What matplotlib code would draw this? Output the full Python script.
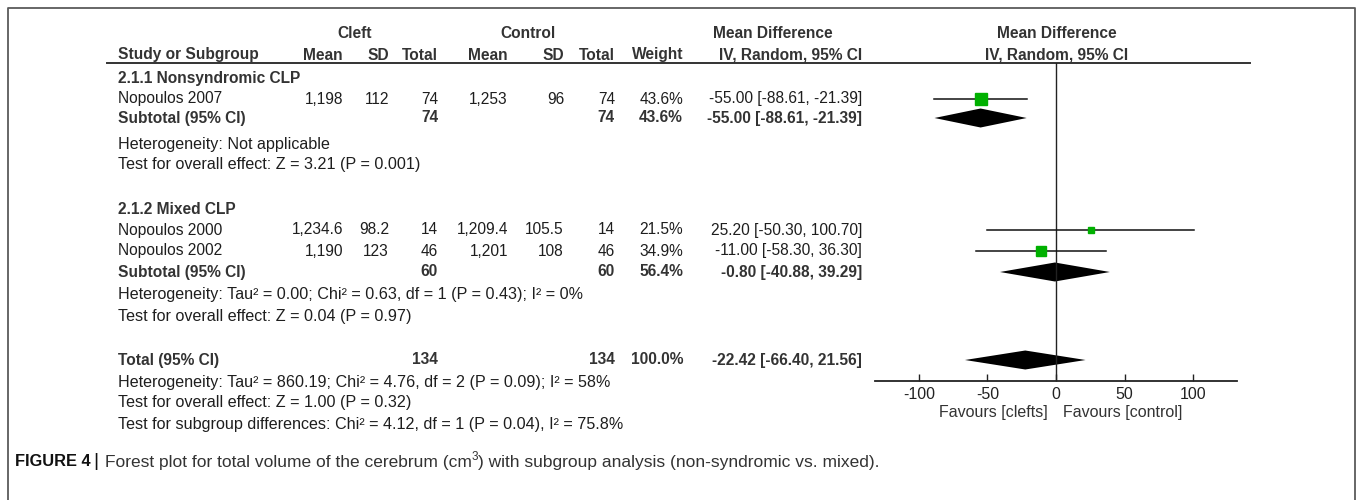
import matplotlib.pyplot as plt
from matplotlib.patches import Polygon

# individual studies
studies = ["Nopoulos 2007", "Nopoulos 2000", "Nopoulos 2002"]
cleft_mean = [1198, 1234.6, 1190]
cleft_sd = [112, 98.2, 123]
cleft_n = [74, 14, 46]
ctrl_mean = [1253, 1209.4, 1201]
ctrl_sd = [96, 105.5, 108]
ctrl_n = [74, 14, 46]
weight = [43.6, 21.5, 34.9]
md = [-55.00, 25.20, -11.00]
md_lo = [-88.61, -50.30, -58.30]
md_hi = [-21.39, 100.70, 36.30]

# subtotal / total rows
sum_names = ["Subtotal (95% CI)", "Subtotal (95% CI)", "Total (95% CI)"]
sum_cleft_n = [74, 60, 134]
sum_ctrl_n = [74, 60, 134]
sum_weight = [43.6, 56.4, 100.0]
sum_md = [-55.00, -0.80, -22.42]
sum_lo = [-88.61, -40.88, -66.40]
sum_hi = [-21.39, 39.29, 21.56]

groups = ["2.1.1 Nonsyndromic CLP", "2.1.2 Mixed CLP"]
notes = [
    ["Heterogeneity: Not applicable",
     "Test for overall effect: Z = 3.21 (P = 0.001)"],
    ["Heterogeneity: Tau² = 0.00; Chi² = 0.63, df = 1 (P = 0.43); I² = 0%",
     "Test for overall effect: Z = 0.04 (P = 0.97)"],
    ["Heterogeneity: Tau² = 860.19; Chi² = 4.76, df = 2 (P = 0.09); I² = 58%",
     "Test for overall effect: Z = 1.00 (P = 0.32)",
     "Test for subgroup differences: Chi² = 4.12, df = 1 (P = 0.04), I² = 75.8%"],
]
ticks = [-100, -50, 0, 50, 100]

# row layout (pixel rows from top)
study_y = [99, 230, 251]
group_y = [78, 210]
sum_y = [118, 272, 360]
note_y = [[145, 165], [295, 316], [382, 403, 425]]

plt.rcParams['font.family'] = ['Liberation Sans', 'DejaVu Sans']
FS = 11.2
FS_NOTE = 11.6
TXT = '#1e1e1e'
GREEN = '#00b000'

fig = plt.figure(figsize=(13.57, 5), dpi=100)
ax = fig.add_axes([0, 0, 1, 1])
ax.set_xlim(0, 1357)
ax.set_ylim(500, 0)
ax.axis('off')


def put(x, y, s, ha='left', bold=False, color=TXT, size=FS):
    return ax.text(x, y, s, ha=ha, va='center', fontsize=size,
                   fontweight='bold' if bold else 'normal', color=color)


# frame (open at the bottom)
ax.plot([8, 8, 1355, 1355], [500, 8, 8, 500], color='#5a5a5a', lw=1.3)

# column x positions (right edges)
X_NAME = 118
X_CM, X_CSD, X_CN = 343, 389, 438
X_KM, X_KSD, X_KN = 508, 564, 615
X_W, X_CI = 683, 862

HC = '#333333'
put(355, 33, "Cleft", 'center', True, HC)
put(528, 33, "Control", 'center', True, HC)
put(773, 33, "Mean Difference", 'center', True, HC)
put(1057, 33, "Mean Difference", 'center', True, HC)
put(X_NAME, 55, "Study or Subgroup", bold=True, color=HC)
for x, s in [(X_CM, "Mean"), (X_CSD, "SD"), (X_CN, "Total"),
             (X_KM, "Mean"), (X_KSD, "SD"), (X_KN, "Total"),
             (X_W, "Weight"), (X_CI, "IV, Random, 95% CI")]:
    put(x, 55, s, 'right', True, HC)
put(1057, 55, "IV, Random, 95% CI", 'center', True, HC)
ax.plot([107, 1250], [63, 63], color='#333333', lw=1.4)

for g, y in zip(groups, group_y):
    put(X_NAME, y, g, bold=True, color=HC)

for i, y in enumerate(study_y):
    put(X_NAME, y, studies[i])
    put(X_CM, y, f"{cleft_mean[i]:,}", 'right')
    put(X_CSD, y, f"{cleft_sd[i]}", 'right')
    put(X_CN, y, f"{cleft_n[i]}", 'right')
    put(X_KM, y, f"{ctrl_mean[i]:,}", 'right')
    put(X_KSD, y, f"{ctrl_sd[i]}", 'right')
    put(X_KN, y, f"{ctrl_n[i]}", 'right')
    put(X_W, y, f"{weight[i]:.1f}%", 'right')
    put(X_CI, y, f"{md[i]:.2f} [{md_lo[i]:.2f}, {md_hi[i]:.2f}]", 'right')

for i, y in enumerate(sum_y):
    put(X_NAME, y, sum_names[i], bold=True, color=HC)
    put(X_CN, y, f"{sum_cleft_n[i]}", 'right', True, HC)
    put(X_KN, y, f"{sum_ctrl_n[i]}", 'right', True, HC)
    put(X_W, y, f"{sum_weight[i]:.1f}%", 'right', True, HC)
    put(X_CI, y, f"{sum_md[i]:.2f} [{sum_lo[i]:.2f}, {sum_hi[i]:.2f}]", 'right', True, HC)

for lines, ys in zip(notes, note_y):
    for s, y in zip(lines, ys):
        put(X_NAME, y, s, size=FS_NOTE)

# forest panel sharing the pixel rows
fa = fig.add_axes([875 / 1357, 1 - 381 / 500, 362 / 1357, (381 - 63) / 500])
fa.set_xlim(-132, 132)
fa.set_ylim(381, 63)
fa.patch.set_alpha(0)
for side in ['top', 'left', 'right']:
    fa.spines[side].set_visible(False)
fa.spines['bottom'].set_linewidth(1.3)
fa.spines['bottom'].set_color('#222222')
fa.set_yticks([])
fa.set_xticks(ticks)
fa.set_xticklabels([str(t) for t in ticks])
fa.tick_params(axis='x', direction='in', length=5, width=1, pad=4,
               labelsize=11.5, colors='#222222')
fa.axvline(0, color='#222222', lw=1.0)

for i, y in enumerate(study_y):
    fa.plot([md_lo[i], md_hi[i]], [y, y], color='#111111', lw=1.1)
    fa.plot(md[i], y, marker='s', ms=weight[i] * 0.275 * 0.72,
            color=GREEN, mec=GREEN)

for i, y in enumerate(sum_y):
    fa.add_patch(Polygon([(sum_lo[i], y), (sum_md[i], y - 9.5),
                          (sum_hi[i], y), (sum_md[i], y + 9.5)],
                         closed=True, color='black', lw=0))

put(1048, 412, "Favours [clefts]", 'right', color='#333333', size=11.5)
put(1063, 412, "Favours [control]", 'left', color='#333333', size=11.5)

# caption, placed piece by piece
fig.canvas.draw()
rend = fig.canvas.get_renderer()
pieces = [("FIGURE 4", 'bold', 0, 11.8, '#111111', 3),
          ("|", 'normal', 0, 14, '#111111', 6),
          ("Forest plot for total volume of the cerebrum (cm", 'normal', 0, 12.5, '#333333', 0),
          ("3", 'normal', -5, 8.5, '#333333', 0),
          (") with subgroup analysis (non-syndromic vs. mixed).", 'normal', 0, 12.5, '#333333', 0)]
cx = 15
for s, w, dy, sz, c, gap in pieces:
    t = ax.text(cx, 462 + dy, s, ha='left', va='center', fontsize=sz,
                fontweight=w, color=c)
    cx = t.get_window_extent(rend).x1 + gap

fig.savefig('out.png', dpi=100)
